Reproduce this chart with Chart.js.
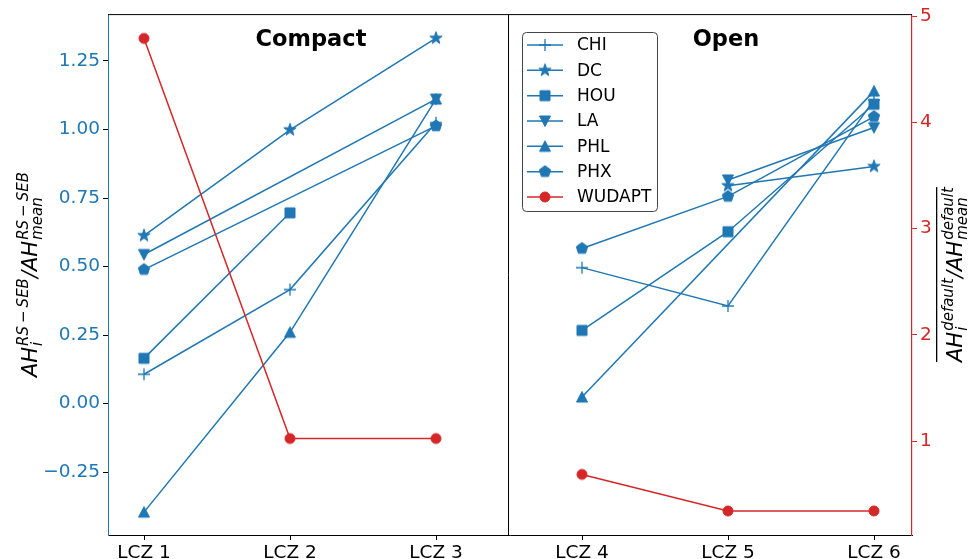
<!DOCTYPE html>
<html>
<head>
<meta charset="utf-8">
<script src="https://cdn.jsdelivr.net/npm/chart.js@4.4.1/dist/chart.umd.min.js"></script>
<style>
    html, body { margin: 0; padding: 0; background: #fff; }
    #wrap { width: 968px; height: 559px; }
</style>
</head>
<body>
<div id="wrap"><canvas id="chart" width="968" height="559"></canvas></div>
<script>
// Categories: LCZ 1-3 form the "Compact" panel, LCZ 4-6 the "Open" panel.
const LCZ_LABELS = ['LCZ 1', 'LCZ 2', 'LCZ 3', 'LCZ 4', 'LCZ 5', 'LCZ 6'];

// AH_i / AH_mean (RS-SEB), left axis. null = no value for that zone.
const CHI = [0.107, 0.416, 1.025, 0.496, 0.356, 1.108];
const DC = [0.613, 0.999, 1.333, null, 0.795, 0.865];
const HOU = [0.165, 0.696, null, 0.267, 0.627, 1.092];
const LA = [0.544, null, 1.111, null, 0.816, 1.007];
const PHL = [-0.396, 0.260, 1.111, 0.024, null, 1.140];
const PHX = [0.489, null, 1.013, 0.566, 0.756, 1.047];

// WUDAPT default ratio, right axis.
const WUDAPT = [4.79, 1.025, 1.025, 0.687, 0.343, 0.343];

const X_TICKS = [0, 1, 2, 3, 4, 5];
const LEFT_TICKS = [-0.25, 0, 0.25, 0.5, 0.75, 1.0, 1.25];
const RIGHT_TICKS = [1, 2, 3, 4, 5];

const BLUE = '#1f77b4';
const RED = '#d62728';
const FONT = "'DejaVu Sans', sans-serif";

// Draw a matplotlib-like marker on a small canvas (used as pointStyle).
function makeMarker(shape, color) {
    const c = document.createElement('canvas');
    c.width = 18;
    c.height = 18;
    const g = c.getContext('2d');
    const m = 9;
    g.fillStyle = color;
    g.strokeStyle = color;
    g.lineWidth = 1;
    g.beginPath();
    if (shape === 'plus') {
        g.lineWidth = 1.3;
        g.moveTo(m - 6, m); g.lineTo(m + 6, m);
        g.moveTo(m, m - 6); g.lineTo(m, m + 6);
        g.stroke();
        return c;
    }
    if (shape === 'square') {
        g.rect(m - 5, m - 5, 10, 10);
    } else if (shape === 'triDown') {
        g.moveTo(m - 5.5, m - 5); g.lineTo(m + 5.5, m - 5); g.lineTo(m, m + 5.5);
    } else if (shape === 'triUp') {
        g.moveTo(m - 5.5, m + 5); g.lineTo(m + 5.5, m + 5); g.lineTo(m, m - 5.5);
    } else if (shape === 'star') {
        for (let i = 0; i < 10; i++) {
            const r = i % 2 === 0 ? 6.5 : 2.6;
            const a = -Math.PI / 2 + i * Math.PI / 5;
            g.lineTo(m + r * Math.cos(a), m + r * Math.sin(a));
        }
    } else if (shape === 'pentagon') {
        for (let i = 0; i < 5; i++) {
            const a = -Math.PI / 2 + i * 2 * Math.PI / 5;
            g.lineTo(m + 6 * Math.cos(a), m + 6 * Math.sin(a));
        }
    } else {
        g.arc(m, m, 5, 0, Math.PI * 2);
    }
    g.closePath();
    g.fill();
    g.stroke();
    return c;
}

const SERIES = [
    { label: 'CHI', values: CHI, marker: makeMarker('plus', BLUE), color: BLUE, axis: 'y' },
    { label: 'DC', values: DC, marker: makeMarker('star', BLUE), color: BLUE, axis: 'y' },
    { label: 'HOU', values: HOU, marker: makeMarker('square', BLUE), color: BLUE, axis: 'y' },
    { label: 'LA', values: LA, marker: makeMarker('triDown', BLUE), color: BLUE, axis: 'y' },
    { label: 'PHL', values: PHL, marker: makeMarker('triUp', BLUE), color: BLUE, axis: 'y' },
    { label: 'PHX', values: PHX, marker: makeMarker('pentagon', BLUE), color: BLUE, axis: 'y' },
    { label: 'WUDAPT', values: WUDAPT, marker: makeMarker('circle', RED), color: RED, axis: 'y2' }
];

// Points of one panel, skipping missing zones (the line joins the remaining ones).
function panelPoints(values, from, to) {
    const pts = [];
    for (let i = from; i <= to; i++) {
        if (values[i] !== null) pts.push({ x: i, y: values[i] });
    }
    return pts;
}

const datasets = [];
SERIES.forEach((s, k) => {
    [[0, 2], [3, 5]].forEach(([from, to]) => {
        datasets.push({
            label: s.label,
            data: panelPoints(s.values, from, to),
            yAxisID: s.axis,
            borderColor: s.color,
            backgroundColor: s.color,
            borderWidth: 1.5,
            pointStyle: s.marker,
            pointRadius: 6,
            fill: false,
            tension: 0,
            order: 100 - k // later series drawn on top
        });
    });
});

// Axis label with italic math, sub/superscripts, optionally overlined.
function drawMathLabel(ctx, x, y, parts, overline) {
    const MAIN = "italic 21px " + FONT;
    const SCRIPT = "italic 15px " + FONT;
    ctx.save();
    ctx.translate(x, y);
    ctx.rotate(-Math.PI / 2);
    ctx.fillStyle = '#000';
    ctx.textBaseline = 'alphabetic';
    ctx.textAlign = 'left';
    let total = 0;
    const widths = parts.map(p => {
        ctx.font = MAIN;
        const w1 = ctx.measureText(p.text).width;
        ctx.font = SCRIPT;
        const w2 = Math.max(ctx.measureText(p.sub).width, ctx.measureText(p.sup).width);
        total += w1 + w2 + 1;
        return [w1, w2];
    });
    let cx = -total / 2;
    if (overline) ctx.fillRect(cx, -26, total, 1.3);
    parts.forEach((p, i) => {
        ctx.font = MAIN;
        ctx.fillText(p.text, cx, 0);
        cx += widths[i][0] + 1;
        ctx.font = SCRIPT;
        ctx.fillText(p.sup, cx, -9);
        ctx.fillText(p.sub, cx, 5);
        cx += widths[i][1];
    });
    ctx.restore();
}

const extrasPlugin = {
    id: 'extras',
    afterDraw(chart) {
        const ctx = chart.ctx;
        const area = chart.chartArea;
        const xs = chart.scales.x;

        ctx.save();
        // top spine and panel separator
        ctx.strokeStyle = '#000';
        ctx.lineWidth = 1;
        ctx.beginPath();
        ctx.moveTo(area.left, area.top + 0.5);
        ctx.lineTo(area.right, area.top + 0.5);
        const sepX = Math.round(xs.getPixelForValue(2.5)) - 0.5;
        ctx.moveTo(sepX, area.top);
        ctx.lineTo(sepX, area.bottom);
        ctx.stroke();

        // panel titles
        ctx.fillStyle = '#000';
        ctx.font = "bold 22.5px " + FONT;
        ctx.textAlign = 'center';
        ctx.textBaseline = 'alphabetic';
        ctx.fillText('Compact', 311, 46);
        ctx.fillText('Open', 726, 46);

        // legend
        ctx.fillStyle = 'rgba(255,255,255,0.85)';
        ctx.strokeStyle = '#444';
        ctx.beginPath();
        ctx.roundRect(522.5, 32.5, 135, 179, 4);
        ctx.fill();
        ctx.stroke();
        ctx.font = "17px " + FONT;
        ctx.textAlign = 'left';
        ctx.textBaseline = 'middle';
        SERIES.forEach((s, k) => {
            const ry = 45 + k * 25.33;
            ctx.strokeStyle = s.color;
            ctx.lineWidth = 1.5;
            ctx.beginPath();
            ctx.moveTo(527, ry);
            ctx.lineTo(563, ry);
            ctx.stroke();
            ctx.drawImage(s.marker, 545 - 9, ry - 9);
            ctx.fillStyle = '#000';
            ctx.fillText(s.label, 577, ry + 1);
        });
        ctx.restore();

        // axis titles
        drawMathLabel(ctx, 37, (area.top + area.bottom) / 2, [
            { text: 'AH', sub: 'i', sup: 'RS\u2009\u2212\u2009SEB' },
            { text: '/AH', sub: 'mean', sup: 'RS\u2009\u2212\u2009SEB' }
        ], false);
        drawMathLabel(ctx, 962, (area.top + area.bottom) / 2, [
            { text: 'AH', sub: 'i', sup: 'default' },
            { text: '/AH', sub: 'mean', sup: 'default' }
        ], true);
    }
};

const tickFont = { family: FONT, size: 18.5 };

new Chart(document.getElementById('chart'), {
    type: 'line',
    data: { datasets: datasets },
    options: {
        responsive: false,
        animation: false,
        layout: { padding: { top: 13, left: 0, right: 0, bottom: 0 } },
        plugins: { legend: { display: false }, tooltip: { enabled: false } },
        scales: {
            x: {
                type: 'linear',
                min: -36 / 146,
                max: 768 / 146,
                afterBuildTicks: s => { s.ticks = X_TICKS.map(v => ({ value: v })); },
                afterFit: s => { s.height = 24; },
                ticks: {
                    autoSkip: false,
                    maxRotation: 0,
                    padding: 2,
                    color: '#000',
                    font: tickFont,
                    callback: v => LCZ_LABELS[v]
                },
                grid: { drawOnChartArea: false, tickLength: 5, color: '#000' },
                border: { color: '#000', width: 1 }
            },
            y: {
                position: 'left',
                min: -0.4794,
                max: 1.421,
                afterBuildTicks: s => { s.ticks = LEFT_TICKS.map(v => ({ value: v })); },
                afterFit: s => { s.width = 108; },
                ticks: {
                    padding: 3,
                    color: BLUE,
                    font: tickFont,
                    callback: v => v.toFixed(2).replace('-', '\u2212')
                },
                grid: { drawOnChartArea: false, tickLength: 5, color: '#000' },
                border: { color: BLUE, width: 1 }
            },
            y2: {
                position: 'right',
                min: 0.117,
                max: 5.019,
                afterBuildTicks: s => { s.ticks = RIGHT_TICKS.map(v => ({ value: v })); },
                afterFit: s => { s.width = 56; },
                ticks: {
                    padding: 3,
                    color: RED,
                    font: tickFont,
                    callback: v => String(v)
                },
                grid: { drawOnChartArea: false, tickLength: 5, color: RED },
                border: { color: RED, width: 1.2 }
            }
        }
    },
    plugins: [extrasPlugin]
});
</script>
</body>
</html>
